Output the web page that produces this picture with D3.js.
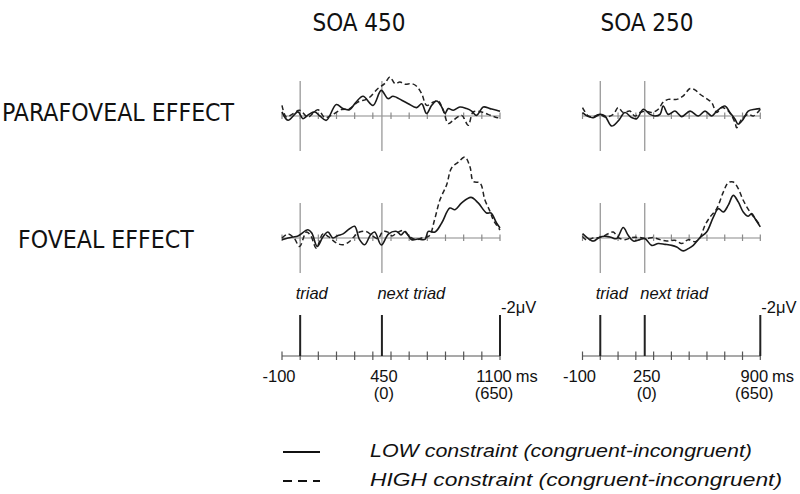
<!DOCTYPE html>
<html><head><meta charset="utf-8">
<script src="https://cdn.jsdelivr.net/npm/d3@7"></script>
<style>body{margin:0;background:#fff}</style></head>
<body>
<svg id="chart" width="800" height="494"></svg>
<script>
// ---- data: [time in ms, amplitude in µV] (negative plotted up) ----
const para450Low = [[-100,-0.2],[-67,0.21],[-12,-0.2],[15,0.13],[48,-0.08],[80,-0.2],[109,0],[144,0.21],[199,-0.56],[236,-0.36],[272,-0.31],[307,-0.67],[346,-0.96],[401,-0.52],[446,-1.25],[483,-0.85],[511,-0.96],[559,-0.77],[595,-0.6],[641,-0.41],[669,-0.6],[696,-0.12],[724,-0.52],[751,-0.73],[779,-0.44],[797,-0.12],[815,-0.36],[843,-0.28],[879,-0.44],[916,-0.36],[944,-0.24],[971,-0.03],[1008,-0.44],[1045,-0.36],[1081,-0.28],[1100,-0.23]];
const para450High = [[-100,-0.52],[-76,0.05],[-45,-0.08],[-3,-0.28],[43,0.05],[98,-0.31],[135,0.08],[171,-0.03],[226,-0.31],[272,-0.36],[318,-0.68],[373,-0.85],[428,-1.34],[465,-1.58],[494,-1.9],[522,-1.58],[549,-1.66],[577,-1.55],[614,-1.58],[641,-1.45],[669,-1.09],[696,-0.52],[733,-0.68],[760,-0.73],[788,-0.28],[815,0.37],[843,0.21],[889,-0.03],[925,0.45],[953,-0.2],[999,-0.2],[1034,-0.08],[1072,0.05],[1100,0.11]];
const fov450Low = [[-100,0.08],[-67,0],[-40,-0.05],[-12,-0.1],[43,-0.4],[64,-0.24],[94,0.41],[125,-0.05],[153,-0.29],[180,0],[208,-0.12],[236,-0.2],[272,-0.45],[300,-0.57],[327,0.08],[355,0.33],[388,-0.16],[410,-0.29],[447,0.34],[487,-0.2],[531,-0.32],[555,-0.15],[577,-0.32],[614,0.08],[648,0.05],[687,0.07],[705,-0.32],[742,-0.29],[779,-0.73],[824,-1.46],[852,-1.38],[889,-1.71],[940,-1.98],[980,-1.71],[1026,-1.22],[1050,-1.22],[1081,-0.73],[1100,-0.49]];
const fov450High = [[-100,0],[-67,-0.2],[-34,0],[-3,0.41],[34,-0.29],[59,-0.1],[89,0.49],[125,-0.2],[158,-0.05],[199,0.24],[236,0.33],[272,0.17],[300,-0.1],[327,-0.29],[364,-0.32],[401,-0.08],[428,0.03],[456,-0.32],[483,-0.29],[505,-0.1],[531,-0.24],[567,-0.37],[604,-0.05],[641,0.08],[669,0],[710,-0.1],[740,-0.9],[769,-1.85],[806,-2.59],[833,-3.41],[870,-3.7],[907,-3.95],[935,-3.46],[953,-2.76],[990,-2.68],[1017,-1.85],[1045,-1.3],[1063,-0.88],[1081,-0.63],[1100,-0.39]];
const para250Low = [[-100,-0.17],[-67,0.03],[-39,0.08],[-2,-0.08],[26,0],[64,0.49],[101,0.24],[139,-0.17],[177,0.08],[205,0.13],[242,-0.33],[280,-0.08],[308,0],[336,-0.08],[354,-0.49],[382,-0.08],[420,-0.24],[458,0.03],[505,-0.24],[551,0],[589,-0.24],[627,0],[655,-0.24],[701,-0.49],[729,-0.17],[758,0.16],[776,0.4],[804,0.16],[832,-0.24],[870,-0.33],[900,-0.36]];
const para250High = [[-100,-0.41],[-67,0],[-39,0.03],[-2,-0.08],[26,0.05],[73,-0.08],[101,-0.41],[129,-0.17],[167,-0.24],[195,0],[223,-0.17],[251,-0.24],[289,-0.17],[326,-0.33],[354,-0.68],[382,-0.81],[430,-0.81],[467,-0.98],[505,-1.34],[533,-1.27],[561,-1.06],[598,-0.85],[627,-0.65],[655,-0.17],[683,-0.41],[720,-0.24],[758,0.32],[767,0.57],[795,0.16],[832,-0.08],[861,0],[900,-0.33]];
const fov250Low = [[-100,-0.21],[-67,0.03],[-39,0.15],[-2,-0.05],[36,-0.08],[64,-0.02],[92,0.03],[129,-0.51],[157,-0.13],[186,0.15],[223,0.08],[251,0.03],[289,0.36],[326,0.27],[364,0.31],[402,0.36],[430,0.44],[467,0.63],[495,0.52],[523,0.36],[561,-0.02],[598,-0.29],[636,-1.02],[664,-1.43],[692,-1.27],[720,-1.6],[748,-2.08],[776,-1.76],[804,-1.27],[832,-1.06],[852,-1.19],[870,-0.95],[900,-0.54]];
const fov250High = [[-100,-0.08],[-76,0.11],[-41,0],[-2,-0.02],[45,-0.21],[73,-0.29],[101,-0.02],[139,0.08],[177,-0.02],[223,-0.02],[257,0.03],[298,-0.02],[336,0.08],[373,0.15],[420,0.11],[458,0.27],[495,0.08],[533,0.18],[561,-0.02],[589,-0.62],[617,-1.02],[655,-1.43],[692,-2.24],[720,-2.7],[748,-2.73],[776,-2.41],[804,-1.84],[842,-1.27],[870,-0.95],[900,-0.62]];

const panelTitles = ["SOA 450", "SOA 250"];
const rowLabels = ["PARAFOVEAL EFFECT", "FOVEAL EFFECT"];
const soaValues = [450, 250];
const timeStart = -100;
const timeEnds = [1100, 900];
const tickLabels450 = [["-100", ""], ["450", "(0)"], ["1100", "(650)"]];
const tickLabels250 = [["-100", ""], ["250", "(0)"], ["900", "(650)"]];
const eventLabels = ["triad", "next triad"];
const calibrationUV = -2;
const calibrationLabel = "-2\u03BCV";
const legendLabels = ["LOW constraint (congruent-incongruent)", "HIGH constraint (congruent-incongruent)"];

// ---- layout ----
const svg = d3.select("#chart");
svg.append("rect").attr("width", 800).attr("height", 494).attr("fill", "#fff");

const panels = [
  { title: panelTitles[0], soa: soaValues[0], end: timeEnds[0], xr: [282, 500], titleX: 359,
    series: [[para450Low, para450High], [fov450Low, fov450High]], ticks: tickLabels450 },
  { title: panelTitles[1], soa: soaValues[1], end: timeEnds[1], xr: [582.5, 760.3], titleX: 647,
    series: [[para250Low, para250High], [fov250Low, fov250High]], ticks: tickLabels250 }
];
const rowBase = [116, 238];
const scaleBase = 356;
const pxPerUV = 20.5;
const titleFont = "'DejaVu Sans Condensed','DejaVu Sans',sans-serif";
const labelFont = "'Liberation Sans',Arial,sans-serif";

// row labels
svg.append("text").attr("x", 2).attr("y", 121).text(rowLabels[0])
  .attr("font-family", titleFont).attr("font-stretch", "condensed").attr("font-size", 24.6).attr("fill", "#111");
svg.append("text").attr("x", 18).attr("y", 248).text(rowLabels[1])
  .attr("font-family", titleFont).attr("font-stretch", "condensed").attr("font-size", 24.6).attr("fill", "#111");

panels.forEach(p => {
  const x = d3.scaleLinear().domain([timeStart, p.end]).range(p.xr);
  const tickVals = d3.range(timeStart, p.end + 1, 100);

  svg.append("text").attr("x", p.titleX).attr("y", 31).attr("text-anchor", "middle")
    .text(p.title).attr("font-family", titleFont).attr("font-stretch", "condensed")
    .attr("font-size", 24).attr("fill", "#111");

  rowBase.forEach((base, ri) => {
    const y = d3.scaleLinear().domain([-4, 4]).range([base - 4 * pxPerUV, base + 4 * pxPerUV]);
    const g = svg.append("g");
    g.append("line").attr("x1", x(timeStart)).attr("x2", x(p.end)).attr("y1", y(0)).attr("y2", y(0))
      .attr("stroke", "#8a8a8a").attr("stroke-width", 1.2);
    g.selectAll(".tk").data(tickVals).join("line")
      .attr("x1", d => x(d)).attr("x2", d => x(d)).attr("y1", y(0) - 3.5).attr("y2", y(0) + 3)
      .attr("stroke", "#8a8a8a").attr("stroke-width", 1.2);
    g.selectAll(".ev").data([0, p.soa]).join("line")
      .attr("x1", d => x(d)).attr("x2", d => x(d)).attr("y1", y(0) - 35).attr("y2", y(0) + 35)
      .attr("stroke", "#999").attr("stroke-width", 1.3);
    const line = d3.line().x(d => x(d[0])).y(d => y(d[1])).curve(d3.curveCatmullRom.alpha(0.5));
    const [low, high] = p.series[ri];
    g.append("path").attr("d", line(high)).attr("fill", "none").attr("stroke", "#222")
      .attr("stroke-width", 1.5).attr("stroke-dasharray", "5,3");
    g.append("path").attr("d", line(low)).attr("fill", "none").attr("stroke", "#1a1a1a")
      .attr("stroke-width", 1.6);
  });

  const yc = d3.scaleLinear().domain([0, -2]).range([scaleBase, scaleBase - 2 * pxPerUV]);
  const g = svg.append("g");
  g.append("line").attr("x1", x(timeStart)).attr("x2", x(p.end)).attr("y1", yc(0)).attr("y2", yc(0))
    .attr("stroke", "#555").attr("stroke-width", 1.2);
  g.selectAll(".tk").data(tickVals).join("line")
    .attr("x1", d => x(d)).attr("x2", d => x(d)).attr("y1", yc(0) - 4.5).attr("y2", yc(0) + 4)
    .attr("stroke", "#555").attr("stroke-width", 1.2);
  g.selectAll(".big").data([0, p.soa, p.end]).join("line")
    .attr("x1", d => x(d)).attr("x2", d => x(d)).attr("y1", yc(calibrationUV)).attr("y2", yc(0))
    .attr("stroke", "#222").attr("stroke-width", 2);
  [0, p.soa].forEach((t, i) => {
    g.append("text").attr("x", x(t) - 4.5).attr("y", 299).text(eventLabels[i])
      .attr("font-family", labelFont).attr("font-style", "italic").attr("font-size", 16.5).attr("fill", "#111");
  });
  g.append("text").attr("x", x(p.end) + 1).attr("y", 313).text(calibrationLabel)
    .attr("font-family", labelFont).attr("font-size", 16.5).attr("fill", "#111");
  const tv = [timeStart, p.soa, p.end];
  tv.forEach((t, i) => {
    const [main, sub] = p.ticks[i];
    const isEnd = i === 2;
    const cx = isEnd ? x(t) - 6 : x(t) + (i === 0 ? -3 : 2);
    const tx = g.append("text").attr("x", cx).attr("y", 382).attr("text-anchor", "middle")
      .text(main).attr("font-family", labelFont).attr("font-size", 16.5).attr("fill", "#111");
    if (isEnd) {
      const w = tx.node().getComputedTextLength();
      g.append("text").attr("x", cx + w / 2 + 4).attr("y", 382).text("ms")
        .attr("font-family", labelFont).attr("font-size", 16.5).attr("fill", "#111");
    }
    if (sub) {
      g.append("text").attr("x", cx).attr("y", 399).attr("text-anchor", "middle").text(sub)
        .attr("font-family", labelFont).attr("font-size", 16.5).attr("fill", "#111");
    }
  });
});

// legend
const lg = svg.append("g");
[[452, null, 382], [481, "9,6", 412]].forEach(([ly, dash, len], i) => {
  lg.append("line").attr("x1", 283).attr("x2", 320).attr("y1", ly).attr("y2", ly)
    .attr("stroke", "#111").attr("stroke-width", 2).attr("stroke-dasharray", dash);
  lg.append("text").attr("x", 370).attr("y", ly + 4.5).text(legendLabels[i])
    .attr("font-family", labelFont).attr("font-style", "italic").attr("font-size", 18)
    .attr("textLength", len).attr("lengthAdjust", "spacingAndGlyphs").attr("fill", "#111");
});
</script>
</body></html>
